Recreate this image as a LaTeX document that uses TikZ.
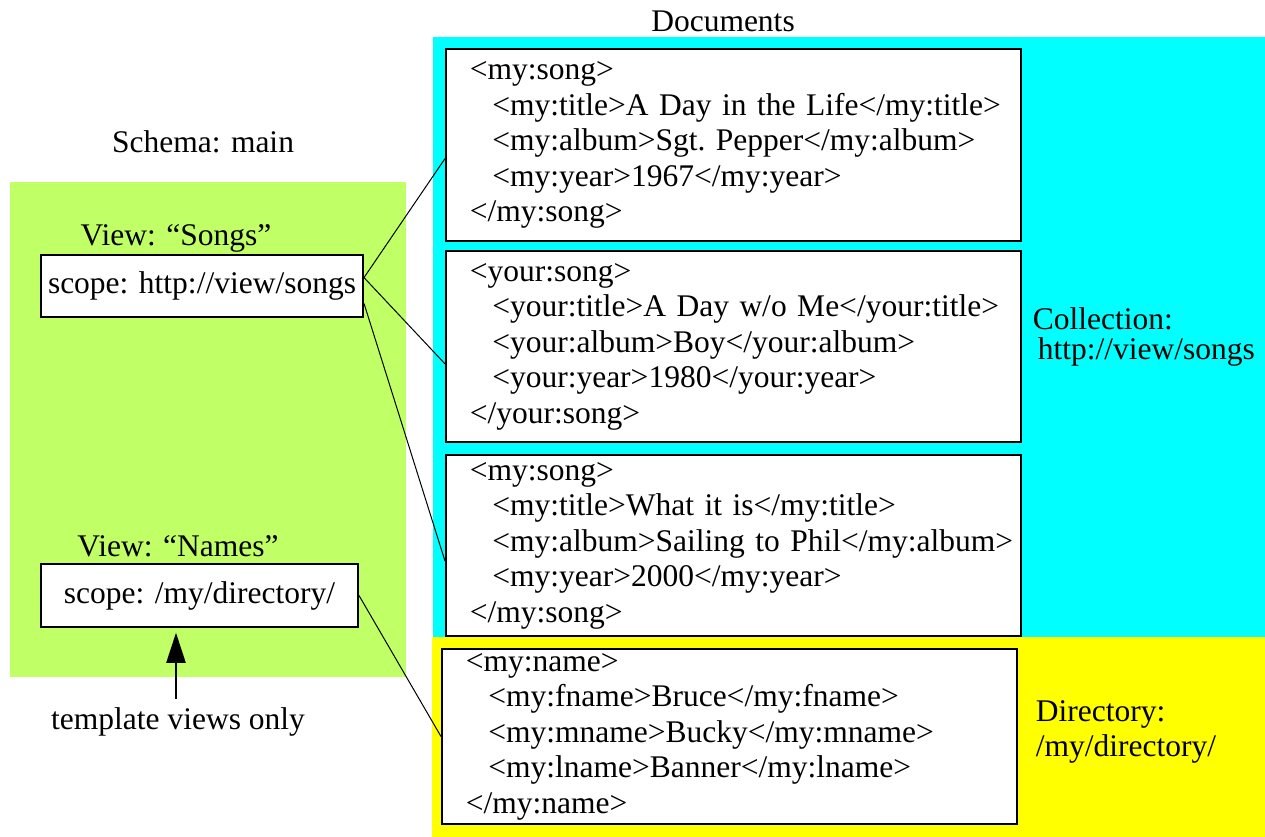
\documentclass[tikz,border=0pt]{standalone}
\usepackage{fontspec}
\setmainfont{Liberation Serif}
\usetikzlibrary{calc,arrows.meta}
\definecolor{schemagreen}{RGB}{192,255,102}
\definecolor{collcyan}{RGB}{0,255,255}
\definecolor{diryellow}{RGB}{255,255,0}
\newcommand{\ind}{\hspace*{9pt}}

\begin{document}
\begin{tikzpicture}[x=0.4pt,y=-0.4pt,
    every node/.style={font=\fontsize{12.6}{14.2}\selectfont},
    docbox/.style={draw,line width=0.8pt,fill=white,anchor=north west,align=left,
      text width=211pt,inner xsep=9.5pt,inner ysep=0pt,minimum width=230pt},
    scopebox/.style={draw,line width=0.8pt,fill=white,inner sep=0pt,minimum height=25pt},
    link/.style={line width=0.4pt}]
  \useasboundingbox (0,0) rectangle (1265,837);
  % coloured regions
  \fill[schemagreen] (10,182) rectangle (406,677);
  \fill[collcyan] (433,37) rectangle (1265,637);
  \fill[diryellow] (432,637) rectangle (1265,837);

  % schema side
  \node (schema) at (203,142) {Schema: main};
  \node (songslbl) at (176,238) {View: “Songs”};
  \node[scopebox,minimum width=128.8pt] (songs) at (202,286) {scope: http://view/songs};
  \node (nameslbl) at (178,546) {View: “Names”};
  \node[scopebox,minimum width=126.8pt] (names) at (199.5,595.5) {scope: /my/directory/};
  \node (tmpl) at (178,722) {template views only};
  \draw[line width=0.9pt,-{Triangle[width=7.6pt,length=12pt]},shorten >=2pt]
    ([xshift=-0.8pt]tmpl.north) -- ([xshift=-0.8pt]tmpl.north |- names.south);

  % documents side
  \node (docs) at (723,21) {Documents};
  \node[docbox,minimum height=76.8pt] (doc1) at (445,48) {%
    <my:song>\\
    \ind<my:title>A~Day~in~the~Life</my:title>\\
    \ind<my:album>Sgt.~Pepper</my:album>\\
    \ind<my:year>1967</my:year>\\
    </my:song>};
  \node[docbox,minimum height=76.4pt] (doc2) at (445,250) {%
    <your:song>\\
    \ind<your:title>A~Day~w/o~Me</your:title>\\
    \ind<your:album>Boy</your:album>\\
    \ind<your:year>1980</your:year>\\
    </your:song>};
  \node[docbox,minimum height=72.4pt] (doc3) at (445,454) {%
    <my:song>\\
    \ind<my:title>What~it~is</my:title>\\
    \ind<my:album>Sailing~to~Phil</my:album>\\
    \ind<my:year>2000</my:year>\\
    </my:song>};
  \node[docbox,minimum height=70pt] (doc4) at (441,648) {%
    <my:name>\\
    \ind<my:fname>Bruce</my:fname>\\
    \ind<my:mname>Bucky</my:mname>\\
    \ind<my:lname>Banner</my:lname>\\
    </my:name>};
  \node[anchor=west,align=left] (coll) at (1024,337) {Collection:\\[-2.2pt]\hspace*{2pt}http://view/songs};
  \node[anchor=west,align=left] (dir) at (1027,732) {Directory:\\/my/directory/};

  % links from views to documents
  \draw[link] ($(songs.north east)!0.37!(songs.south east)$) -- ($(doc1.north west)!0.57!(doc1.south west)$);
  \draw[link] ($(songs.north east)!0.37!(songs.south east)$) -- ($(doc2.north west)!0.59!(doc2.south west)$);
  \draw[link] ($(songs.north east)!0.77!(songs.south east)$) -- ($(doc3.north west)!0.585!(doc3.south west)$);
  \draw[link] (names.east) -- (doc4.west);
\end{tikzpicture}
\end{document}
